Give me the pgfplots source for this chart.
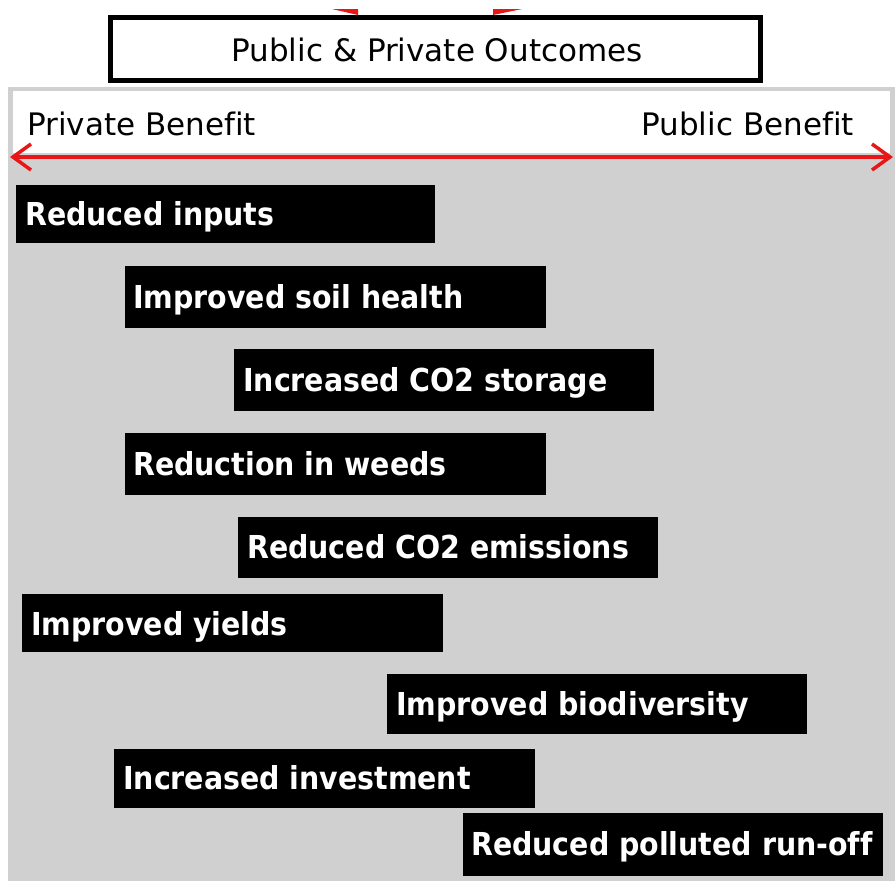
\documentclass[border=0pt]{standalone}
\usepackage{pgfplots}
\usepackage{pgfplotstable}
\pgfplotsset{compat=1.18}
\usetikzlibrary{arrows.meta}
\usepackage{fontspec}
\setmainfont[Ligatures=NoCommon]{DejaVu Sans}
\newfontfamily\condfont[Ligatures=NoCommon]{DejaVu Sans Condensed}
\definecolor{bggray}{RGB}{208,208,208}
\definecolor{arrred}{RGB}{232,22,22}

\pgfplotstableread{
x y label
25 225 {Reduced inputs}
133 308 {Improved soil health}
243 391 {Increased CO2 storage}
133 475 {Reduction in weeds}
247 558 {Reduced CO2 emissions}
31 635 {Improved yields}
396 715 {Improved biodiversity}
123 789 {Increased investment}
471 855 {Reduced polluted run-off}
}\labels

\begin{document}
\begin{tikzpicture}
\begin{axis}[
  scale only axis, width=895pt, height=881pt,
  xmin=0, xmax=895, ymin=0, ymax=881, y dir=reverse,
  axis lines=none, ticks=none,
  clip=true,
]
% page background
\addplot[fill=white, draw=none] coordinates {(0,0) (895,0) (895,881) (0,881)};
% gray panel and white header strip
\addplot[fill=bggray, draw=none] coordinates {(8,87) (895,87) (895,881) (8,881)};
\addplot[fill=white, draw=none] coordinates {(13,91) (890,91) (890,153) (13,153)};
% red double arrow
\addplot[arrred, line width=3.5pt, {Straight Barb[length=18pt,width=26pt]}-{Straight Barb[length=18pt,width=26pt]}] coordinates {(10,157) (893,157)};
% red fragments above title box
\addplot[fill=arrred, draw=none] coordinates {(332,9) (358,9) (358,15)};
\addplot[fill=arrred, draw=none] coordinates {(493,9) (522,9) (493,15)};
% title box
\addplot[fill=white, draw=black, line width=5pt] coordinates {(110.5,17.5) (760.5,17.5) (760.5,80.5) (110.5,80.5)} -- cycle;
% bars
\addplot[fill=black, draw=none] coordinates {(16,185) (435,185) (435,243) (16,243)};
\addplot[fill=black, draw=none] coordinates {(125,266) (546,266) (546,328) (125,328)};
\addplot[fill=black, draw=none] coordinates {(234,349) (654,349) (654,411) (234,411)};
\addplot[fill=black, draw=none] coordinates {(125,433) (546,433) (546,495) (125,495)};
\addplot[fill=black, draw=none] coordinates {(238,517) (658,517) (658,578) (238,578)};
\addplot[fill=black, draw=none] coordinates {(22,594) (443,594) (443,652) (22,652)};
\addplot[fill=black, draw=none] coordinates {(387,674) (807,674) (807,734) (387,734)};
\addplot[fill=black, draw=none] coordinates {(114,749) (535,749) (535,808) (114,808)};
\addplot[fill=black, draw=none] coordinates {(463,813) (883,813) (883,876) (463,876)};
% labels
\addplot[draw=none, mark=none, nodes near coords, point meta=explicit symbolic,
  nodes near coords style={anchor=base west, inner sep=0pt, text=white,
    font=\condfont\bfseries\fontsize{31.6}{36}\selectfont}]
  table[x=x, y=y, meta=label] {\labels};
% header texts
\node[anchor=base, inner sep=0pt, font=\fontsize{31}{36}\selectfont] at (axis cs:437,61) {Public \& Private Outcomes};
\node[anchor=base west, inner sep=0pt, font=\fontsize{31}{36}\selectfont] at (axis cs:27,135) {Private Benefit};
\node[anchor=base east, inner sep=0pt, font=\fontsize{31}{36}\selectfont] at (axis cs:854,135) {Public Benefit};
\end{axis}
\end{tikzpicture}
\end{document}
